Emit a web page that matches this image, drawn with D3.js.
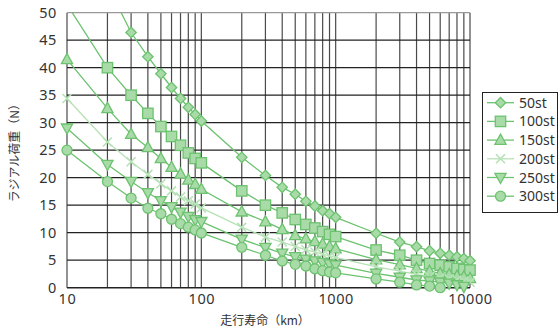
<!DOCTYPE html>
<html><head><meta charset="utf-8">
<script src="https://cdn.jsdelivr.net/npm/d3@7"></script>
<style>
html,body{margin:0;padding:0;background:#fff;}
svg{display:block;font-family:"Noto Sans CJK JP","Noto Sans",sans-serif;}
</style></head>
<body><svg id="c" width="560" height="333"></svg>
<script>
const xValues = [10,20,30,40,50,60,70,80,90,100,200,300,400,500,600,700,800,900,1000,2000,3000,4000,5000,6000,7000,8000,9000,10000];
const s50  = [null,55,46.4,42.0,38.9,36.4,34.4,32.8,31.5,30.3,23.7,20.4,18.25,17.0,15.7,14.85,14.0,13.45,12.8,9.9,8.3,7.45,6.7,6.25,5.9,5.6,5.3,4.9];
const s100 = [51.5,40.0,35.0,31.7,29.3,27.5,25.9,24.5,23.5,22.7,17.6,15.0,13.6,12.4,11.5,10.85,10.2,9.7,9.3,6.85,5.9,5.0,4.4,4.1,3.8,3.5,3.3,3.2];
const s150 = [41.5,32.6,27.9,25.5,23.5,21.9,20.7,19.6,18.8,17.9,13.8,12.0,10.6,9.5,8.9,8.4,7.95,7.5,7.1,5.1,4.2,3.5,3.0,2.6,2.4,2.1,1.95,1.7];
const s200 = [34.4,26.5,22.9,20.6,18.9,17.6,16.5,15.8,15.2,14.5,11.0,9.2,8.3,7.5,6.9,6.5,6.1,5.8,5.5,3.8,3.0,2.4,2.0,1.8,1.6,1.4,1.2,1.0];
const s250 = [29.0,22.4,19.3,17.25,15.8,14.7,13.7,12.95,12.35,12.0,8.8,7.3,6.25,5.6,5.15,4.85,4.55,4.3,4.1,2.6,1.9,1.4,1.2,1.0,0.8,0.5,0.2,null];
const s300 = [25.0,19.3,16.3,14.45,13.45,12.45,11.65,11.0,10.5,9.95,7.35,5.9,4.85,4.25,3.95,3.45,3.1,2.85,2.7,1.6,1.0,0.5,0.3,0.0,null,null,null,null];
const seriesNames = ["50st","100st","150st","200st","250st","300st"];
const seriesValues = [s50,s100,s150,s200,s250,s300];
const markerTypes = ["diamond","square","triangle","cross","down","circle"];
const xTickLabels = [10,100,1000,10000];
const yTickLabels = [0,5,10,15,20,25,30,35,40,45,50];
const xTitle = "走行寿命（km）";
const yTitle = "ラジアル荷重（N）";

const L=67, R=470, T=12.7, B=287.7;
const svg = d3.select("#c");
const x = d3.scaleLog().domain([10,10000]).range([L,R]);
const y = d3.scaleLinear().domain([0,50]).range([B,T]);

const lineC = "#6cc26f", fillC = "#a9dba9", lightC = "#b6e2b6";

// grid
const minor = [];
[10,100,1000].forEach(d=>{for(let k=1;k<=10;k++) minor.push(d*k);});
const gx = svg.append("g");
gx.selectAll("line.v").data(Array.from(new Set(minor))).join("line")
  .attr("x1",d=>x(d)).attr("x2",d=>x(d)).attr("y1",T).attr("y2",B)
  .attr("stroke","#4a4a4a").attr("stroke-width",1.2);
gx.selectAll("line.h").data(yTickLabels).join("line")
  .attr("x1",L).attr("x2",R).attr("y1",d=>y(d)).attr("y2",d=>y(d))
  .attr("stroke",d=>d===50?"#999":"#222").attr("stroke-width",d=>d===0?1.4:1.2);

// axes labels
const yAxis = d3.axisLeft(y).tickValues(yTickLabels).tickSize(0).tickPadding(10);
const ya = svg.append("g").attr("transform",`translate(${L},0)`).call(yAxis);
ya.select(".domain").remove();
ya.selectAll("text").attr("font-size",14.5).attr("fill","#333").attr("letter-spacing","0.6px").attr("font-family","'Noto Sans',sans-serif");

const xAxis = d3.axisBottom(x).tickValues(xTickLabels).tickFormat(d3.format("d")).tickSize(0).tickPadding(6);
const xa = svg.append("g").attr("transform",`translate(0,${B})`).call(xAxis);
xa.select(".domain").remove();
xa.selectAll("text").attr("font-size",14.5).attr("fill","#333").attr("letter-spacing","0.6px").attr("font-family","'Noto Sans',sans-serif");

svg.append("text").attr("x",265).attr("y",325).attr("text-anchor","middle")
  .attr("font-size",12).attr("fill","#333").text(xTitle);
svg.append("text").attr("transform",`translate(19,${(T+B)/2}) rotate(-90)`).attr("text-anchor","middle")
  .attr("font-size",12).attr("fill","#333").text(yTitle);

// clip top only
const defs = svg.append("defs");
defs.append("clipPath").attr("id","clip").append("rect")
  .attr("x",0).attr("y",T).attr("width",560).attr("height",333-T);

function marker(g, type, color, fill){
  let s;
  if(type==="diamond"){ s=g.append("path").attr("d","M0,-5.2L5.2,0L0,5.2L-5.2,0Z"); }
  else if(type==="square"){ s=g.append("rect").attr("x",-5.2).attr("y",-5.2).attr("width",10.4).attr("height",10.4); }
  else if(type==="triangle"){ s=g.append("path").attr("d","M0,-6L5.6,4.2L-5.6,4.2Z"); }
  else if(type==="down"){ s=g.append("path").attr("d","M0,6L5.6,-4.2L-5.6,-4.2Z"); }
  else if(type==="circle"){ s=g.append("circle").attr("r",5); }
  else if(type==="cross"){ s=g.append("path").attr("d","M-4.5,-4.5L4.5,4.5M-4.5,4.5L4.5,-4.5").attr("stroke-width",1.6); 
    s.attr("stroke",lightC).attr("fill","none"); return; }
  s.attr("fill",fill).attr("stroke",color).attr("stroke-width",1.3);
}

const plot = svg.append("g").attr("clip-path","url(#clip)");
seriesValues.forEach((vals,i)=>{
  const pts = xValues.map((xv,j)=>({x:xv,y:vals[j]})).filter(p=>p.y!==null);
  const type = markerTypes[i];
  const lc = type==="cross"? lightC : lineC;
  plot.append("path").datum(pts)
    .attr("d",d3.line().x(d=>x(d.x)).y(d=>y(d.y)))
    .attr("fill","none").attr("stroke",lc).attr("stroke-width",1.3);
  pts.forEach(p=>{
    const g = plot.append("g").attr("transform",`translate(${x(p.x)},${y(p.y)})`);
    marker(g,type,lineC,fillC);
  });
});

// legend
const lg = svg.append("g");
lg.append("rect").attr("x",482.5).attr("y",92.5).attr("width",75).attr("height",120)
  .attr("fill","#fff").attr("stroke","#222").attr("stroke-width",1);
seriesNames.forEach((n,i)=>{
  const yy = 102.7 + i*18.7;
  const type = markerTypes[i];
  lg.append("line").attr("x1",487).attr("x2",514).attr("y1",yy).attr("y2",yy)
    .attr("stroke",type==="cross"?lightC:lineC).attr("stroke-width",1.3);
  const g = lg.append("g").attr("transform",`translate(500.5,${yy})`);
  marker(g,type,lineC,fillC);
  lg.append("text").attr("x",519).attr("y",yy).attr("dy","0.36em")
    .attr("font-size",14).attr("fill","#333").attr("font-family","'Noto Sans',sans-serif").text(n);
});
</script></body></html>
